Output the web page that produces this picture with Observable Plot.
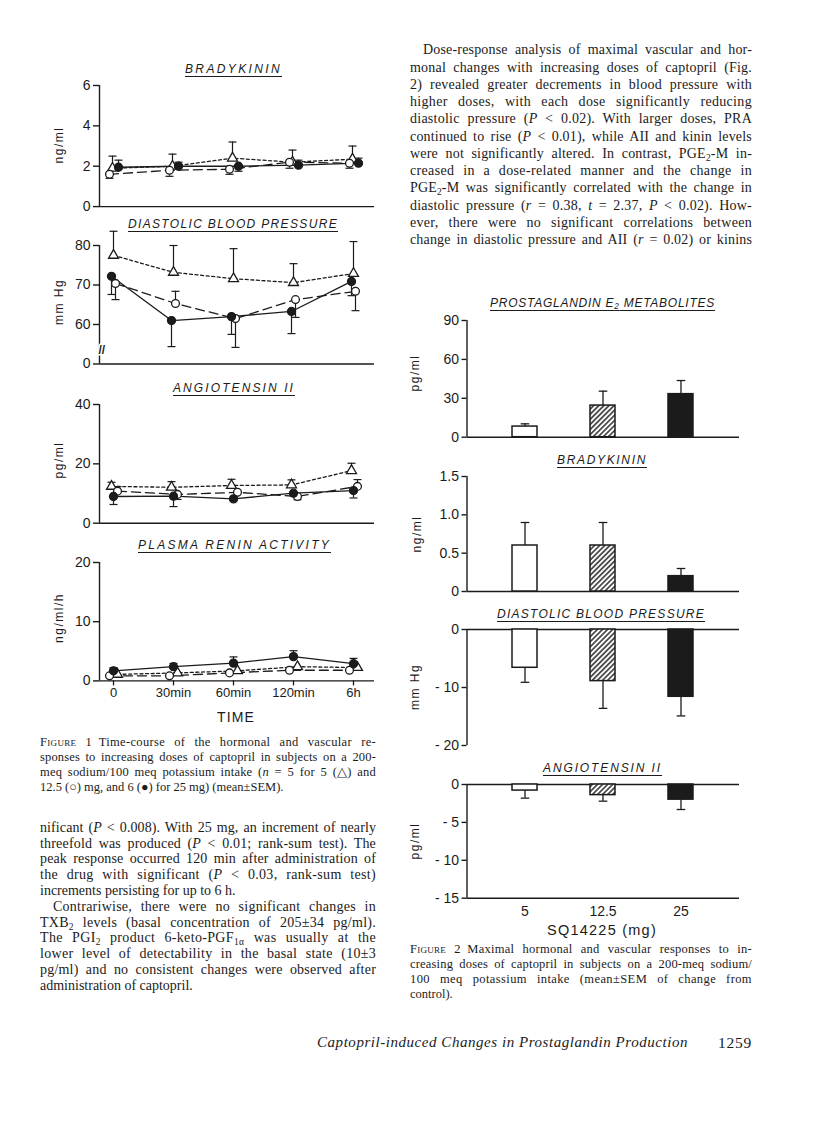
<!DOCTYPE html>
<html><head><meta charset="utf-8">
<script src="https://cdn.jsdelivr.net/npm/d3@7"></script>
<script src="https://cdn.jsdelivr.net/npm/@observablehq/plot@0.6"></script>
<style>
html,body{margin:0;padding:0;background:#fff;}
#page{position:relative;width:816px;height:1127px;overflow:hidden;background:#fff;color:#1b1b1b;}
.abs{position:absolute;white-space:nowrap;}
sub{font-size:0.68em;vertical-align:-0.28em;line-height:0;}
</style></head><body>
<svg width="0" height="0" style="position:absolute"><defs>
<pattern id="hatch" width="3.6" height="3.6" patternUnits="userSpaceOnUse" patternTransform="rotate(45)">
<rect width="3.6" height="3.6" fill="#fff"/><line x1="1.8" y1="-1" x2="1.8" y2="4.6" stroke="#1b1b1b" stroke-width="1.4"/>
</pattern></defs></svg>
<div id="page"></div>
<script>
// ================= DATA =================
const times = ["0", "30min", "60min", "120min", "6h"];
const doses = ["5", "12.5", "25"];

// Figure 1 — Bradykinin (ng/ml): value and end of SEM bar
const bk5 = [1.9, 2.0, 2.4, 2.2, 2.35];
const bk5Err = [2.5, 2.6, 3.2, 2.8, 3.0];
const bk12 = [1.6, 1.8, 1.85, 2.2, 2.15];
const bk12Err = [1.4, 1.5, 1.6, 1.9, 1.9];
const bk25 = [1.95, 2.0, 2.0, 2.05, 2.15];
const bk25Err = [2.3, 2.2, 1.75, 2.3, 2.4];

// Figure 1 — Diastolic blood pressure (mm Hg)
const dbp5 = [77.5, 73.2, 71.6, 70.6, 72.9];
const dbp5Err = [83.6, 80.0, 79.2, 75.4, 81.0];
const dbp12 = [70.4, 65.3, 61.5, 66.3, 68.4];
const dbp12Err = [66.3, 68.4, 54.2, 61.8, 63.5];
const dbp25 = [72.2, 61.0, 62.0, 63.3, 70.9];
const dbp25Err = [67.6, 54.4, 57.5, 57.7, 67.3];

// Figure 1 — Angiotensin II (pg/ml)
const a2_5 = [12.4, 12.1, 12.7, 12.9, 17.7];
const a2_5Err = [13.8, 14.0, 14.8, 14.6, 20.2];
const a2_12 = [10.8, 9.7, 10.4, 9.0, 12.4];
const a2_12Err = [12.3, 8.0, null, 7.9, 14.7];
const a2_25 = [9.0, 9.1, 8.2, 10.1, 11.0];
const a2_25Err = [6.3, 5.6, 7.6, null, 8.5];

// Figure 1 — Plasma renin activity (ng/ml/h)
const pra5 = [1.1, 1.35, 1.7, 2.4, 2.25];
const pra5Err = [null, null, null, null, null];
const pra12 = [0.85, 0.85, 1.35, 1.8, 1.8];
const pra12Err = [null, null, null, null, null];
const pra25 = [1.7, 2.4, 3.0, 4.1, 2.9];
const pra25Err = [2.25, 2.95, 4.05, 5.1, 3.8];

// Figure 2 — change from control, by dose (5, 12.5, 25 mg)
const pgeM = [8.2, 24.4, 33.2];
const pgeMErr = [10.3, 35.5, 43.7];
const bkChange = [0.6, 0.6, 0.2];
const bkChangeErr = [0.9, 0.9, 0.3];
const dbpChange = [-6.6, -8.9, -11.6];
const dbpChangeErr = [-9.1, -13.6, -14.9];
const a2Change = [-0.8, -1.4, -2.0];
const a2ChangeErr = [-1.8, -2.2, -3.3];

// ================= SETUP =================
const ink = "#1b1b1b";
const SANS = '"Liberation Sans", Arial, Helvetica, sans-serif';
const SERIF = '"Liberation Serif", "Times New Roman", serif';
const page = document.getElementById("page");
const baseStyle = {background: "transparent", overflow: "visible", fontFamily: SANS, color: ink};
const capSym = hw => ({draw(ctx) { ctx.moveTo(-hw, 0); ctx.lineTo(hw, 0); }});
const seriesStyle = {
  "5": {symbol: "triangle", r: 3.7, fill: "white", dash: "3,2.6"},
  "12.5": {symbol: "circle", r: 3.9, fill: "white", dash: "9,5"},
  "25": {symbol: "circle", r: 4, fill: ink, dash: null}
};

function place(node, left, top) {
  node.style.position = "absolute";
  node.style.left = left + "px";
  node.style.top = top + "px";
  page.appendChild(node);
}

// ---------- Figure 1 panels ----------
const X1 = [-14 / 60, 4 + 21 / 60];
function fig1Panel(p) {
  const mt = 30, mb = p.xAxis ? 34 : 8;
  const h = mt + (p.yBottom - p.yTop) + mb;
  const marks = [
    Plot.ruleY([p.domain[0]], {stroke: ink, strokeWidth: 1.4}),
    Plot.ruleX([X1[0]], {stroke: ink, strokeWidth: 1.4}),
    Plot.axisY({ticks: p.ticks, tickFormat: p.fmt || (d => d), tickSize: 6, tickPadding: 3, fontSize: 14, label: null, stroke: ink, strokeWidth: 1.4})
  ];
  if (p.breakAt != null) {
    marks.push(Plot.text([p.breakAt], {y: d => d, frameAnchor: "left", dx: -1, text: () => "//", fontSize: 12, fontWeight: "bold", fill: ink, stroke: "white", strokeWidth: 3}));
  }
  const sets = p.series.map(s => ({s, st: seriesStyle[s.dose], data: s.values.map((v, i) => ({i, v, e: s.err[i]}))}));
  for (const {s, st, data} of sets)
    marks.push(Plot.line(data, {x: "i", y: "v", dx: s.dx, stroke: ink, strokeWidth: 1.3, strokeDasharray: st.dash}));
  for (const {s, data} of sets) {
    const eb = data.filter(d => d.e != null);
    marks.push(Plot.ruleX(eb, {x: "i", y1: "v", y2: "e", dx: s.dx, stroke: ink, strokeWidth: 1.2}));
    marks.push(Plot.dot(eb, {x: "i", y: "e", dx: s.dx, r: 4, symbol: capSym(4), stroke: ink, strokeWidth: 1.2, fill: "none"}));
  }
  for (const {s, st, data} of sets)
    marks.push(Plot.dot(data, {x: "i", y: "v", dx: s.dx, r: st.r, symbol: st.symbol, fill: st.fill, stroke: ink, strokeWidth: 1.3}));
  if (p.xAxis)
    marks.push(Plot.axisX({ticks: [0, 1, 2, 3, 4], tickFormat: i => times[i], tickSize: 5, tickPadding: 2, fontSize: 13, label: null, stroke: ink, strokeWidth: 1.3}));
  const svg = Plot.plot({
    width: 390, height: h, marginLeft: 99, marginRight: 16, marginTop: mt, marginBottom: mb,
    x: p.xAxis ? {domain: X1} : {domain: X1, axis: null},
    y: {domain: p.domain},
    style: baseStyle, marks
  });
  place(svg, 0, p.yTop - mt);
}

fig1Panel({yTop: 84.7, yBottom: 205.8, domain: [0, 6], ticks: [0, 2, 4, 6], series: [
  {dose: "5", values: bk5, err: bk5Err, dx: -1},
  {dose: "12.5", values: bk12, err: bk12Err, dx: -4},
  {dose: "25", values: bk25, err: bk25Err, dx: 5}]});
fig1Panel({yTop: 245, yBottom: 363.5, domain: [50, 80], ticks: [50, 60, 70, 80], fmt: d => d === 50 ? "0" : d, breakAt: 53.4, series: [
  {dose: "5", values: dbp5, err: dbp5Err, dx: 0},
  {dose: "12.5", values: dbp12, err: dbp12Err, dx: 2},
  {dose: "25", values: dbp25, err: dbp25Err, dx: -2}]});
fig1Panel({yTop: 404, yBottom: 522.7, domain: [0, 40], ticks: [0, 20, 40], series: [
  {dose: "5", values: a2_5, err: a2_5Err, dx: -2},
  {dose: "12.5", values: a2_12, err: a2_12Err, dx: 4},
  {dose: "25", values: a2_25, err: a2_25Err, dx: 0}]});
fig1Panel({yTop: 562.3, yBottom: 680.7, domain: [0, 20], ticks: [0, 10, 20], xAxis: true, series: [
  {dose: "5", values: pra5, err: pra5Err, dx: 4},
  {dose: "12.5", values: pra12, err: pra12Err, dx: -4},
  {dose: "25", values: pra25, err: pra25Err, dx: 0}]});

// ---------- Figure 2 panels ----------
const X2 = [(466.5 - 524.5) / 78, 2 + (739 - 680.5) / 78];
const barHalf = 12.5 / 78;
const barFills = ["white", "url(#hatch)", ink];
function fig2Panel(p) {
  const mt = 24, mb = p.xAxis ? 30 : 8;
  const h = mt + (p.yBottom - p.yTop) + mb;
  const data = p.values.map((v, i) => ({i, v, e: p.err[i]}));
  const marks = [
    ...p.lines.map(l => Plot.ruleY([l], {stroke: ink, strokeWidth: 1.4})),
    Plot.ruleX([X2[0]], {stroke: ink, strokeWidth: 1.4}),
    Plot.axisY({ticks: p.ticks, tickFormat: p.fmt || (d => d), tickSize: 5, tickPadding: 3, fontSize: 14, label: null, stroke: ink, strokeWidth: 1.4}),
    ...barFills.map((f, k) => Plot.rect(data.filter(d => d.i === k), {x1: d => d.i - barHalf, x2: d => d.i + barHalf, y1: 0, y2: "v", fill: f, stroke: ink, strokeWidth: 1.5})),
    Plot.ruleX(data, {x: "i", y1: "v", y2: "e", stroke: ink, strokeWidth: 1.3}),
    Plot.dot(data, {x: "i", y: "e", r: 4, symbol: capSym(4.3), stroke: ink, strokeWidth: 1.3, fill: "none"})
  ];
  if (p.xAxis)
    marks.push(Plot.axisX({ticks: [0, 1, 2], tickFormat: i => doses[i], tickSize: 0, tickPadding: 8, fontSize: 14, label: null}));
  const svg = Plot.plot({
    width: 380, height: h, marginLeft: 86.5, marginRight: 21, marginTop: mt, marginBottom: mb,
    x: p.xAxis ? {domain: X2} : {domain: X2, axis: null},
    y: {domain: p.domain},
    style: baseStyle, marks
  });
  place(svg, 380, p.yTop - mt);
}
const negFmt = d => d === 0 ? "0" : "- " + Math.abs(d);
fig2Panel({yTop: 320, yBottom: 436.7, domain: [0, 90], ticks: [0, 30, 60, 90], lines: [0], values: pgeM, err: pgeMErr});
fig2Panel({yTop: 475.7, yBottom: 590.7, domain: [0, 1.5], ticks: [0, 0.5, 1, 1.5], fmt: d => d === 0 ? "0" : d.toFixed(1), lines: [0], values: bkChange, err: bkChangeErr});
fig2Panel({yTop: 629.3, yBottom: 745.3, domain: [-20, 0], ticks: [0, -10, -20], fmt: negFmt, lines: [0], values: dbpChange, err: dbpChangeErr});
fig2Panel({yTop: 784, yBottom: 897.7, domain: [-15, 0], ticks: [0, -5, -10, -15], fmt: negFmt, lines: [0, -15], values: a2Change, err: a2ChangeErr, xAxis: true});

// ================= TEXT =================
function addText(html, o) {
  const d = document.createElement("div");
  d.className = "abs";
  d.innerHTML = html;
  const size = o.size, serif = o.family !== "sans";
  d.style.fontFamily = serif ? SERIF : SANS;
  d.style.fontSize = size + "px";
  d.style.lineHeight = size + "px";
  if (o.italic) d.style.fontStyle = "italic";
  if (o.ls) d.style.letterSpacing = o.ls + "px";
  page.appendChild(d);
  if (o.w != null) {
    const nat = d.getBoundingClientRect().width;
    const txt = d.textContent, n = txt.length, sp = (txt.match(/ /g) || []).length;
    const extra = o.w - nat;
    const wordShare = o.letterOnly || !sp || extra < 0 ? 0 : 0.7;
    d.style.letterSpacing = ((o.ls || 0) + extra * (1 - wordShare) / n) + "px";
    if (sp && wordShare) d.style.wordSpacing = (extra * wordShare / sp) + "px";
  }
  const w = d.getBoundingClientRect().width;
  let left = o.x;
  if (o.cx != null) left = o.cx - w / 2;
  d.style.left = left + "px";
  d.style.top = (o.baseline - (serif ? 0.8375 : 0.8465) * size) + "px";
  return d;
}
function title(html, cx, baseline, w) {
  const d = addText(html, {family: "sans", size: 12, italic: true, w, letterOnly: true, cx, baseline});
  d.style.textDecoration = "underline";
  d.style.textDecorationThickness = "1.3px";
  d.style.textUnderlineOffset = "2.5px";
}
function ylabel(text, cx, cy) {
  const d = document.createElement("div");
  d.className = "abs";
  d.textContent = text;
  d.style.cssText += `font-family:${SANS};font-size:12px;line-height:12px;letter-spacing:1.5px;left:${cx}px;top:${cy}px;transform:translate(-50%,-50%) rotate(-90deg);`;
  page.appendChild(d);
}

// Figure 1 titles and labels
title("BRADYKININ", 233.5, 72.7, 97);
title("DIASTOLIC BLOOD PRESSURE", 233, 228.3, 210);
title("ANGIOTENSIN II", 234, 391.7, 122);
title("PLASMA RENIN ACTIVITY", 234.5, 549, 193);
ylabel("ng/ml", 59, 145);
ylabel("mm Hg", 59, 302);
ylabel("pg/ml", 59, 460);
ylabel("ng/ml/h", 59, 618);
addText("TIME", {family: "sans", size: 14, w: 38, letterOnly: true, cx: 236, baseline: 722});

// Figure 2 titles and labels
title("PROSTAGLANDIN E<sub>2</sub> METABOLITES", 602.5, 307.3, 225);
title("BRADYKININ", 602, 464, 90);
title("DIASTOLIC BLOOD PRESSURE", 601, 618, 208);
title("ANGIOTENSIN II", 602.5, 771.7, 119);
ylabel("pg/ml", 415, 373);
ylabel("ng/ml", 417, 534);
ylabel("mm Hg", 415, 687);
ylabel("pg/ml", 415, 841);
addText("SQ14225 (mg)", {family: "sans", size: 14.5, w: 110, letterOnly: true, cx: 602, baseline: 935});

// Right column paragraph
const rightPara = [
  "Dose-response analysis of maximal vascular and hor-",
  "monal changes with increasing doses of captopril (Fig.",
  "2) revealed greater decrements in blood pressure with",
  "higher doses, with each dose significantly reducing",
  "diastolic pressure (<i>P</i> &lt; 0.02). With larger doses, PRA",
  "continued to rise (<i>P</i> &lt; 0.01), while AII and kinin levels",
  "were not significantly altered. In contrast, PGE<sub>2</sub>-M in-",
  "creased in a dose-related manner and the change in",
  "PGE<sub>2</sub>-M was significantly correlated with the change in",
  "diastolic pressure (<i>r</i> = 0.38, <i>t</i> = 2.37, <i>P</i> &lt; 0.02). How-",
  "ever, there were no significant correlations between",
  "change in diastolic pressure and AII (<i>r</i> = 0.02) or kinins"
];
rightPara.forEach((t, i) => addText(t, {size: 14, x: i === 0 ? 423 : 410, w: i === 0 ? 329 : 342, baseline: 55 + 17.25 * i}));

// Figure 1 caption
const fig1Cap = [
  '<span style="font-variant:small-caps">Figure</span> 1&ensp;Time-course of the hormonal and vascular re-',
  "sponses to increasing doses of captopril in subjects on a 200-",
  "meq sodium/100 meq potassium intake (<i>n</i> = 5 for 5 (△) and",
  "12.5 (○) mg, and 6 (●) for 25 mg) (mean±SEM)."
];
fig1Cap.forEach((t, i) => addText(t, {size: 12.5, x: 40, w: i < 3 ? 336 : null, baseline: 746 + 15 * i}));

// Left column body
const leftBody = [
  "nificant (<i>P</i> &lt; 0.008). With 25 mg, an increment of nearly",
  "threefold was produced (<i>P</i> &lt; 0.01; rank-sum test). The",
  "peak response occurred 120 min after administration of",
  "the drug with significant (<i>P</i> &lt; 0.03, rank-sum test)",
  "increments persisting for up to 6 h.",
  "Contrariwise, there were no significant changes in",
  "TXB<sub>2</sub> levels (basal concentration of 205±34 pg/ml).",
  "The PGI<sub>2</sub> product 6-keto-PGF<sub>1α</sub> was usually at the",
  "lower level of detectability in the basal state (10±3",
  "pg/ml) and no consistent changes were observed after",
  "administration of captopril."
];
leftBody.forEach((t, i) => {
  const last = i === 4 || i === 10;
  addText(t, {size: 14, x: i === 5 ? 53 : 40, w: last ? null : (i === 5 ? 323 : 336), baseline: 832.5 + 15.8 * i});
});

// Figure 2 caption
const fig2Cap = [
  '<span style="font-variant:small-caps">Figure</span> 2&ensp;Maximal hormonal and vascular responses to in-',
  "creasing doses of captopril in subjects on a 200-meq sodium/",
  "100 meq potassium intake (mean±SEM of change from",
  "control)."
];
fig2Cap.forEach((t, i) => addText(t, {size: 12.5, x: 410, w: i < 3 ? 342 : null, baseline: 953 + 15 * i}));

// Running footer
addText("Captopril-induced Changes in Prostaglandin Production", {size: 15, italic: true, x: 317, w: 371, letterOnly: true, baseline: 1047.5});
addText("1259", {size: 15.5, x: 718, w: 34, letterOnly: true, baseline: 1047.5});
</script>
</body></html>
